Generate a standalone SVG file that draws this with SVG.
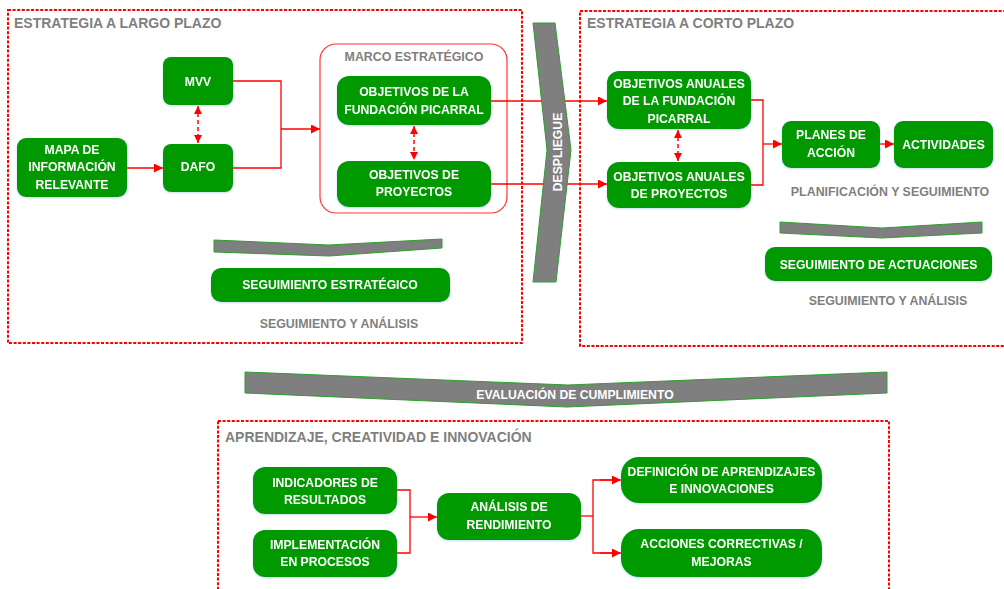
<svg xmlns="http://www.w3.org/2000/svg" width="1004" height="589" viewBox="0 0 1004 589">
<defs>
<style>
.frame{fill:none;stroke:#ff0000;stroke-width:2;stroke-dasharray:3 1.6}
.node{fill:#009900}
.nt{font-family:"Liberation Sans",Arial,sans-serif;font-weight:bold;font-size:12.2px;fill:#ffffff;text-anchor:middle}
.title{font-family:"Liberation Sans",Arial,sans-serif;font-weight:bold;font-size:14px;fill:#7f7f7f}
.lbl{font-family:"Liberation Sans",Arial,sans-serif;font-weight:bold;font-size:12.4px;fill:#7f7f7f;text-anchor:middle}
.chev{fill:#7f7f7f;stroke:#2ca02c;stroke-width:1}
.con{fill:none;stroke:#ff0000;stroke-width:1.3}
.dash{fill:none;stroke:#ff0000;stroke-width:1.5;stroke-dasharray:4 3}
</style>
<marker id="ah" viewBox="0 0 10 10" refX="10" refY="5" markerWidth="10" markerHeight="9" markerUnits="userSpaceOnUse" orient="auto-start-reverse">
<path d="M0,0 L10,5 L0,10 z" fill="#ff0000"/>
</marker>
<marker id="ahs" viewBox="0 0 10 10" refX="10" refY="5" markerWidth="8" markerHeight="8" markerUnits="userSpaceOnUse" orient="auto-start-reverse">
<path d="M0,0 L10,5 L0,10 z" fill="#ff0000"/>
</marker>
<filter id="sh" x="-10%" y="-10%" width="120%" height="130%">
<feDropShadow dx="0" dy="1" stdDeviation="1" flood-color="#5b9bd5" flood-opacity="0.35"/>
</filter>
</defs>
<rect width="1004" height="589" fill="#ffffff"/>

<g id="frames">
<rect class="frame" x="8" y="10" width="514" height="333"/>
<rect class="frame" x="580" y="11" width="440" height="335"/>
<rect class="frame" x="218" y="421" width="671" height="200"/>
<text class="title" x="14" y="28">ESTRATEGIA A LARGO PLAZO</text>
<text class="title" x="587" y="28">ESTRATEGIA A CORTO PLAZO</text>
<text class="title" x="225" y="442">APRENDIZAJE, CREATIVIDAD E INNOVACIÓN</text>
</g>

<g id="marco">
<rect x="320" y="44" width="187" height="169" rx="16" fill="none" stroke="#ff3333" stroke-width="1.2"/>
<text class="lbl" x="414" y="61">MARCO ESTRATÉGICO</text>
</g>

<g id="connectors">
<line class="con" x1="127" y1="168" x2="163" y2="168" marker-end="url(#ah)"/>
<polyline class="con" points="233,81 281,81 281,168 233,168"/>
<line class="con" x1="281" y1="129" x2="320" y2="129" marker-end="url(#ah)"/>
<line class="dash" x1="198" y1="106" x2="198" y2="143" marker-start="url(#ahs)" marker-end="url(#ahs)"/>
<line class="dash" x1="414" y1="126" x2="414" y2="160" marker-start="url(#ahs)" marker-end="url(#ahs)"/>
<line class="con" x1="491" y1="101" x2="607" y2="101" marker-end="url(#ah)"/>
<line class="con" x1="491" y1="184" x2="607" y2="184" marker-end="url(#ah)"/>
<line class="dash" x1="678" y1="130" x2="678" y2="161" marker-start="url(#ahs)" marker-end="url(#ahs)"/>
<polyline class="con" points="751,100 763,100 763,185 751,185"/>
<line class="con" x1="763" y1="144" x2="782" y2="144" marker-end="url(#ah)"/>
<line class="con" x1="880" y1="144" x2="894" y2="144" marker-end="url(#ah)"/>
<polyline class="con" points="397,490 410,490 410,553 397,553"/>
<line class="con" x1="410" y1="517" x2="437" y2="517" marker-end="url(#ah)"/>
<line class="con" x1="581" y1="516" x2="593" y2="516"/>
<polyline class="con" points="620,480 593,480 593,553 620,553"/>
<line class="con" x1="600" y1="480" x2="621" y2="480" marker-end="url(#ah)"/>
<line class="con" x1="600" y1="553" x2="621" y2="553" marker-end="url(#ah)"/>
</g>

<g id="despliegue">
<polygon class="chev" points="533,23 555,23 571,150 556,282 533,282 547,150"/>
<text class="nt" transform="translate(562,152) rotate(-90)" font-size="12">DESPLIEGUE</text>
</g>

<g id="chevron-left">
<polygon class="chev" points="214,240 329,245 442,239 442,248 329,256 214,252"/>
</g>
<g id="chevron-right">
<polygon class="chev" points="780,222 882,228 982,222 982,233 882,238 780,233"/>
</g>
<g id="evaluacion">
<polygon class="chev" points="245,372 568,385 887,372 887,393 567,407 245,393"/>
<text class="nt" x="575" y="399" font-size="12.6">EVALUACIÓN DE CUMPLIMIENTO</text>
</g>

<g id="n-mapa" filter="url(#sh)">
<rect class="node" x="17" y="138" width="110" height="59" rx="9"/>
<text class="nt" x="72" y="153.5">MAPA DE</text>
<text class="nt" x="72" y="171">INFORMACIÓN</text>
<text class="nt" x="72" y="188.5">RELEVANTE</text>
</g>
<g id="n-mvv" filter="url(#sh)">
<rect class="node" x="163" y="57" width="70" height="48" rx="8"/>
<text class="nt" x="198" y="86">MVV</text>
</g>
<g id="n-dafo" filter="url(#sh)">
<rect class="node" x="163" y="144" width="70" height="48" rx="8"/>
<text class="nt" x="198" y="171">DAFO</text>
</g>
<g id="n-objfund" filter="url(#sh)">
<rect class="node" x="337" y="76" width="154" height="49" rx="12"/>
<text class="nt" x="414" y="96">OBJETIVOS DE LA</text>
<text class="nt" x="414" y="114">FUNDACIÓN PICARRAL</text>
</g>
<g id="n-objproy" filter="url(#sh)">
<rect class="node" x="337" y="161" width="154" height="46" rx="12"/>
<text class="nt" x="414" y="179">OBJETIVOS DE</text>
<text class="nt" x="414" y="196">PROYECTOS</text>
</g>
<g id="n-seguest" filter="url(#sh)">
<rect class="node" x="211" y="268" width="239" height="34" rx="10"/>
<text class="nt" x="330" y="289">SEGUIMIENTO ESTRATÉGICO</text>
</g>
<text class="lbl" x="339" y="328">SEGUIMIENTO Y ANÁLISIS</text>

<g id="n-anualfund" filter="url(#sh)">
<rect class="node" x="607" y="71" width="144" height="58" rx="12"/>
<text class="nt" x="679" y="87.5">OBJETIVOS ANUALES</text>
<text class="nt" x="679" y="105">DE LA FUNDACIÓN</text>
<text class="nt" x="679" y="122.5">PICARRAL</text>
</g>
<g id="n-anualproy" filter="url(#sh)">
<rect class="node" x="607" y="162" width="144" height="46" rx="12"/>
<text class="nt" x="679" y="181">OBJETIVOS ANUALES</text>
<text class="nt" x="679" y="198">DE PROYECTOS</text>
</g>
<g id="n-planes" filter="url(#sh)">
<rect class="node" x="782" y="121" width="98" height="47" rx="9"/>
<text class="nt" x="831" y="139">PLANES DE</text>
<text class="nt" x="831" y="157">ACCIÓN</text>
</g>
<g id="n-actividades" filter="url(#sh)">
<rect class="node" x="894" y="121" width="99" height="47" rx="9"/>
<text class="nt" x="943.5" y="148.5">ACTIVIDADES</text>
</g>
<text class="lbl" x="890" y="196">PLANIFICACIÓN Y SEGUIMIENTO</text>
<g id="n-seguact" filter="url(#sh)">
<rect class="node" x="765" y="247" width="227" height="34" rx="10"/>
<text class="nt" x="878.5" y="268.5">SEGUIMIENTO DE ACTUACIONES</text>
</g>
<text class="lbl" x="888" y="305">SEGUIMIENTO Y ANÁLISIS</text>

<g id="n-indicadores" filter="url(#sh)">
<rect class="node" x="253" y="467" width="144" height="47" rx="12"/>
<text class="nt" x="325" y="486.5">INDICADORES DE</text>
<text class="nt" x="325" y="503.5">RESULTADOS</text>
</g>
<g id="n-implementacion" filter="url(#sh)">
<rect class="node" x="253" y="530" width="144" height="47" rx="12"/>
<text class="nt" x="325" y="548.5">IMPLEMENTACIÓN</text>
<text class="nt" x="325" y="566">EN PROCESOS</text>
</g>
<g id="n-analisis" filter="url(#sh)">
<rect class="node" x="437" y="493" width="144" height="47" rx="12"/>
<text class="nt" x="509" y="511">ANÁLISIS DE</text>
<text class="nt" x="509" y="528.5">RENDIMIENTO</text>
</g>
<g id="n-definicion" filter="url(#sh)">
<rect class="node" x="621" y="457" width="201" height="46" rx="18"/>
<text class="nt" x="721.5" y="475.5">DEFINICIÓN DE APRENDIZAJES</text>
<text class="nt" x="721.5" y="492.5">E INNOVACIONES</text>
</g>
<g id="n-acciones" filter="url(#sh)">
<rect class="node" x="621" y="529" width="201" height="48" rx="18"/>
<text class="nt" x="721.5" y="548">ACCIONES CORRECTIVAS /</text>
<text class="nt" x="721.5" y="566">MEJORAS</text>
</g>
</svg>
